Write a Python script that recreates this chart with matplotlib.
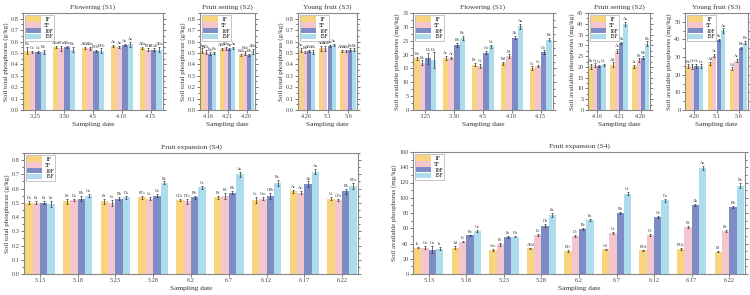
import numpy as np
import matplotlib.pyplot as plt
from matplotlib.ticker import MultipleLocator

plt.rcParams['font.family'] = ['Liberation Serif', 'DejaVu Serif']

treatments = ['1F', '5F', '10F', '15F']
colors = ['#F9D47E', '#F2C6CC', '#7E8CC6', '#ADDCEC']

# ---- soil total phosphorus (g/kg), one row per treatment ----
s1_dates = ['3.25', '3.30', '4.5', '4.10', '4.15']
s1_tp = [[0.52, 0.55, 0.545, 0.56, 0.545],
         [0.51, 0.54, 0.54, 0.55, 0.53],
         [0.51, 0.55, 0.52, 0.57, 0.53],
         [0.51, 0.53, 0.52, 0.575, 0.53]]
s1_tp_err = [[0.03, 0.01, 0.01, 0.01, 0.01],
             [0.01, 0.02, 0.01, 0.01, 0.01],
             [0.01, 0.01, 0.01, 0.01, 0.01],
             [0.02, 0.02, 0.02, 0.02, 0.02]]
s1_tp_lab = [['Ba', 'ABa', 'ABa', 'Aa', 'ABa'],
             ['Ca', 'BCa', 'ABa', 'Aa', 'BCa'],
             ['Ca', 'ABa', 'BCb', 'Aa', 'BCab'],
             ['Ba', 'Ba', 'BCb', 'Aa', 'ABa']]

s2_dates = ['4.16', '4.21', '4.26']
s2_tp = [[0.52, 0.535, 0.483],
         [0.51, 0.54, 0.50],
         [0.495, 0.535, 0.48],
         [0.50, 0.545, 0.515]]
s2_tp_err = [[0.02, 0.01, 0.01],
             [0.02, 0.01, 0.02],
             [0.01, 0.01, 0.01],
             [0.01, 0.01, 0.02]]
s2_tp_lab = [['Aa', 'ABa', 'Bab'],
             ['ABa', 'ABa', 'Bab'],
             ['Ba', 'Aa', 'Bb'],
             ['Ba', 'Aa', 'ABa']]

s3_dates = ['4.26', '5.1', '5.6']
s3_tp = [[0.525, 0.54, 0.52],
         [0.51, 0.54, 0.52],
         [0.515, 0.563, 0.53],
         [0.51, 0.57, 0.53]]
s3_tp_err = [[0.02, 0.02, 0.01],
             [0.01, 0.02, 0.01],
             [0.01, 0.01, 0.01],
             [0.02, 0.01, 0.01]]
s3_tp_lab = [['Aa', 'ABb', 'ABa'],
             ['Ba', 'ABb', 'ABa'],
             ['ABa', 'Aa', 'Ba'],
             ['Ba', 'Aa', 'Ba']]

s4_dates = ['5.13', '5.18', '5.23', '5.28', '6.2', '6.7', '6.12', '6.17', '6.22']
s4_tp = [[0.50, 0.51, 0.51, 0.54, 0.52, 0.54, 0.52, 0.58, 0.53],
         [0.50, 0.52, 0.50, 0.53, 0.51, 0.55, 0.53, 0.57, 0.52],
         [0.50, 0.53, 0.53, 0.55, 0.54, 0.57, 0.55, 0.63, 0.58],
         [0.49, 0.55, 0.54, 0.64, 0.61, 0.70, 0.64, 0.72, 0.62]]
s4_tp_err = [[0.01, 0.02, 0.02, 0.01, 0.01, 0.01, 0.02, 0.01, 0.01],
             [0.01, 0.01, 0.02, 0.01, 0.02, 0.02, 0.01, 0.01, 0.01],
             [0.01, 0.02, 0.01, 0.01, 0.01, 0.01, 0.02, 0.02, 0.02],
             [0.02, 0.01, 0.01, 0.01, 0.01, 0.02, 0.02, 0.02, 0.02]]
s4_tp_lab = [['Da', 'Bc', 'Bc', 'BCc', 'CDc', 'Bc', 'Cc', 'Ac', 'Cc'],
             ['Ea', 'Da', 'Ec', 'Cc', 'DEc', 'Bc', 'Cbc', 'Ac', 'CDc'],
             ['Ea', 'Bb', 'Bb', 'Cb', 'Bb', 'Bb', 'CBb', 'Ab', 'Bb'],
             ['Ea', 'Ga', 'Da', 'Ba', 'Ca', 'Aa', 'Ba', 'Aa', 'BCa']]

# ---- soil available phosphorus (mg/kg) ----
s1_ap = [[18.6, 18.8, 16.4, 16.8, 15.1],
         [17.1, 18.8, 15.8, 19.4, 15.8],
         [18.6, 23.4, 20.7, 26.1, 20.9],
         [18.0, 26.1, 23.0, 30.2, 25.4]]
s1_ap_err = [[0.6, 0.7, 0.5, 0.5, 0.6],
             [0.8, 0.5, 0.7, 0.7, 0.4],
             [2.0, 0.8, 0.6, 0.6, 0.6],
             [2.8, 0.7, 0.6, 1.0, 0.6]]
s1_ap_lab = [['Ba', 'Ac', 'Bc', 'Bd', 'Cc'],
             ['Ba', 'Ac', 'Cc', 'Bc', 'Cc'],
             ['Da', 'Bb', 'Cb', 'Ab', 'Cb'],
             ['Da', 'Ba', 'Ca', 'Aa', 'Ba']]

s2_ap = [[20.3, 21.1, 20.3],
         [20.8, 27.3, 23.1],
         [20.5, 31.1, 24.3],
         [20.8, 40.1, 30.8]]
s2_ap_err = [[1.2, 1.0, 0.8],
             [0.8, 1.0, 0.8],
             [0.6, 0.6, 0.8],
             [0.6, 0.9, 1.0]]
s2_ap_lab = [['Ab', 'Ad', 'Ac'],
             ['Ca', 'Ac', 'Bc'],
             ['Ca', 'Ab', 'Bb'],
             ['Ca', 'Aa', 'Ba']]

s3_ap = [[24.8, 26.5, 23.3],
         [24.8, 30.8, 28.0],
         [24.8, 39.7, 35.4],
         [24.8, 45.1, 38.2]]
s3_ap_err = [[1.0, 0.8, 0.8],
             [1.5, 0.8, 1.0],
             [1.2, 0.6, 0.6],
             [1.0, 1.2, 0.8]]
s3_ap_lab = [['Ba', 'Ad', 'Cd'],
             ['Ca', 'Ac', 'Ac'],
             ['Ca', 'Ab', 'Bb'],
             ['Ca', 'Aa', 'Ba']]

s4_ap = [[34.6, 34.6, 32.0, 33.7, 30.3, 32.4, 31.1, 32.4, 29.4],
         [34.6, 42.4, 39.0, 51.0, 49.7, 54.0, 51.0, 61.8, 56.6],
         [32.0, 50.6, 48.4, 63.6, 58.8, 79.6, 74.4, 90.8, 87.8],
         [33.0, 56.2, 49.0, 77.8, 70.5, 105.0, 96.4, 138.8, 115.9]]
s4_ap_err = [[1.0, 1.5, 1.2, 1.0, 1.0, 1.0, 1.0, 1.5, 1.0],
             [1.5, 1.0, 2.0, 1.2, 1.5, 1.5, 1.5, 1.2, 1.5],
             [5.0, 1.0, 1.0, 1.5, 1.5, 1.5, 1.5, 1.5, 1.2],
             [2.0, 1.5, 1.0, 2.5, 1.5, 2.0, 2.0, 2.5, 3.0]]
s4_ap_lab = [['Ia', 'Ad', 'Cbc', 'ABd', 'EFc', 'Cd', 'BCd', 'BCd', 'Fd'],
             ['Ga', 'Ec', 'Fb', 'Ec', 'Dc', 'Cc', 'Dc', 'Bc', 'Bc'],
             ['Ga', 'Eb', 'Fa', 'Db', 'Eb', 'Bb', 'Cb', 'Ab', 'Bb'],
             ['Ia', 'Ga', 'Ha', 'Ea', 'Fa', 'Ca', 'Da', 'Aa', 'Ba']]


def panel(rect, dates, vals, errs, labs, ymax, major, minor, title, ylabel):
    ax = fig.add_axes(rect)
    x = np.arange(len(dates))
    w = 0.195
    for i in range(4):
        xi = x + (i - 1.5) * w
        ax.bar(xi, vals[i], w, color=colors[i], label=treatments[i], zorder=2)
        ax.errorbar(xi, vals[i], yerr=errs[i], fmt='none', ecolor='#333333',
                    elinewidth=0.5, capsize=1.0, capthick=0.5, zorder=3)
        for xx, v, e, t in zip(xi, vals[i], errs[i], labs[i]):
            ax.text(xx, v + e + ymax * 0.008, t, ha='center', va='bottom',
                    fontsize=3.0, color='#333333')
    ax.set_xlim(-0.42, len(dates) - 1 + 0.42)
    ax.set_ylim(0, ymax)
    ax.set_xticks(x)
    ax.set_xticklabels(dates)
    ax.yaxis.set_major_locator(MultipleLocator(major))
    ax.yaxis.set_minor_locator(MultipleLocator(minor))
    ax.tick_params(axis='both', labelsize=4.5, length=2, width=0.5,
                   colors='#444444', pad=1.2, right=True)
    ax.tick_params(axis='y', which='minor', length=1.2, width=0.4, right=True)
    for sp in ax.spines.values():
        sp.set_color('#888888')
        sp.set_linewidth(0.8)
    ax.set_title(title, fontsize=5.3, pad=3, color='#333333')
    ax.set_xlabel('Sampling date', fontsize=5.3, labelpad=1.5, color='#333333')
    ax.set_ylabel(ylabel, fontsize=5.0, labelpad=1.5, color='#333333')
    ax.legend(loc='upper left', fontsize=4.0, frameon=True, fancybox=False,
              edgecolor='#999999', handlelength=2.6, handleheight=1.1,
              labelspacing=0.05, borderpad=0.3, handletextpad=0.6,
              borderaxespad=0.3).get_frame().set_linewidth(0.5)
    return ax


fig = plt.figure(figsize=(7.5, 2.95), dpi=100)
W, H = 750.0, 295.0


def r(l, rgt, t, b):
    return [l / W, 1 - b / H, (rgt - l) / W, (b - t) / H]


tpl = 'Soil total phosphorus (g/kg)'
apl = 'Soil available phosphorus (mg/kg)'

panel(r(23, 163, 13, 110), s1_dates, s1_tp, s1_tp_err, s1_tp_lab, 0.85, 0.1, 0.05, 'Flowering (S1)', tpl)
panel(r(200, 255, 13, 110), s2_dates, s2_tp, s2_tp_err, s2_tp_lab, 0.85, 0.1, 0.05, 'Fruit setting (S2)', tpl)
panel(r(298, 357, 13, 110), s3_dates, s3_tp, s3_tp_err, s3_tp_lab, 0.85, 0.1, 0.05, 'Young fruit (S3)', tpl)
panel(r(413, 553, 13, 110), s1_dates, s1_ap, s1_ap_err, s1_ap_lab, 35, 5, 2.5, 'Flowering (S1)', apl)
panel(r(588, 650, 13, 110), s2_dates, s2_ap, s2_ap_err, s2_ap_lab, 45, 5, 2.5, 'Fruit setting (S2)', apl)
panel(r(685, 748, 13, 110), s3_dates, s3_ap, s3_ap_err, s3_ap_lab, 55, 10, 5, 'Young fruit (S3)', apl)
panel(r(24, 358, 153, 274), s4_dates, s4_tp, s4_tp_err, s4_tp_lab, 0.85, 0.1, 0.05, 'Fruit expansion (S4)', tpl)
panel(r(413, 745, 152, 274), s4_dates, s4_ap, s4_ap_err, s4_ap_lab, 160, 20, 10, 'Fruit expansion (S4)', apl)

fig.savefig('out.png', dpi=100)
